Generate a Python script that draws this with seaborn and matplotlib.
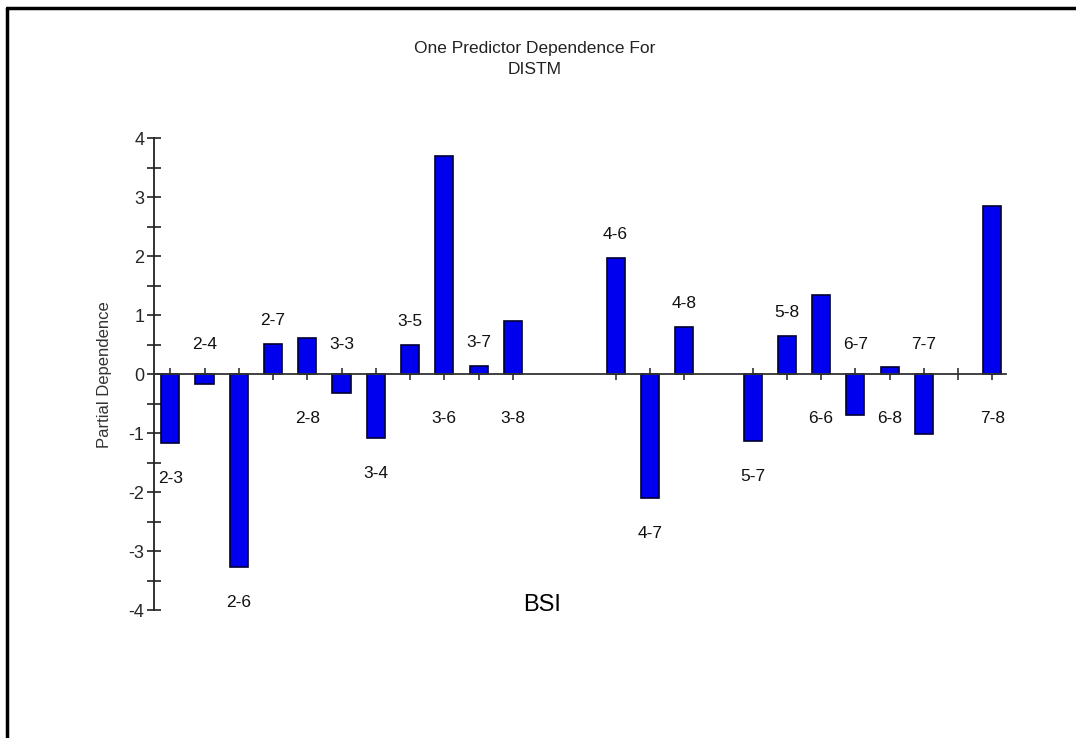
import numpy as np
import pandas as pd
import seaborn as sns
import matplotlib
matplotlib.use("Agg")
import matplotlib.pyplot as plt
from matplotlib.lines import Line2D
from matplotlib.ticker import MultipleLocator

# категории BSI и значения частичной зависимости
slots = [0, 1, 2, 3, 4, 5, 6, 7, 8, 9, 10, 13, 14, 15, 17, 18, 19, 20, 21, 22, 24]
labels = ["2-3", "2-4", "2-6", "2-7", "2-8", "3-3", "3-4", "3-5", "3-6", "3-7", "3-8",
          "4-6", "4-7", "4-8", "5-7", "5-8", "6-6", "6-7", "6-8", "7-7", "7-8"]
values = [-1.17, -0.17, -3.27, 0.51, 0.61, -0.32, -1.08, 0.49, 3.69, 0.14, 0.90,
          1.96, -2.10, 0.80, -1.14, 0.64, 1.34, -0.69, 0.12, -1.02, 2.85]
tick_slots = [0, 1, 2, 3, 4, 5, 6, 7, 8, 9, 10, 13, 14, 15, 17, 18, 19, 20, 21, 22, 23, 24]
n_slots = 25

df = pd.DataFrame({"slot": slots, "label": labels, "value": values})

sns.set_style("white")
plt.rcParams["font.family"] = ["Liberation Sans", "DejaVu Sans"]
plt.rcParams["axes.unicode_minus"] = False

fig = plt.figure(figsize=(10.76, 7.38), dpi=100)
ax = fig.add_axes([0.143, 0.173, 0.792, 0.64])

# полный ряд позиций, пустые позиции = NaN
full = pd.DataFrame({"slot": np.arange(n_slots)})
full = full.merge(df, on="slot", how="left")
sns.barplot(data=full, x="slot", y="value", color="#0000ee", saturation=1,
            width=0.53, edgecolor="#000033", linewidth=1.2, ax=ax, native_scale=True)

ax.set_xlim(-0.48, 24.4)
ax.set_ylim(-4, 4)

# оси как в старом графике: ось X по нулю
for s in ["top", "right"]:
    ax.spines[s].set_visible(False)
ax.spines["bottom"].set_position(("data", 0))
ax.spines["bottom"].set_color("#333333")
ax.spines["left"].set_color("#222222")
ax.spines["bottom"].set_linewidth(1.3)
ax.spines["left"].set_linewidth(1.3)

ax.set_xticks(tick_slots)
ax.set_xticklabels([])
ax.tick_params(axis="x", bottom=True, direction="inout", length=9, width=1.2, color="#333333")
ax.yaxis.set_major_locator(MultipleLocator(1))
ax.yaxis.set_minor_locator(MultipleLocator(0.5))
ax.tick_params(axis="y", which="both", left=True, direction="inout", length=10, width=1.2,
               color="#222222", labelsize=13, pad=2)
ax.set_xlabel("")
ax.set_ylabel("Partial Dependence", fontsize=12, color="#333333", labelpad=12)

# подписи категорий, поочередно снизу / сверху
for i, row in df.iterrows():
    if i % 2 == 0:
        y = min(row["value"], -0.15) - 0.6
    else:
        y = max(row["value"], 0.1) + 0.4
    ax.text(row["slot"], y, row["label"], ha="center", va="center",
            fontsize=12.5, color="#111111")

ax.text(0.455, 0.012, "BSI", transform=ax.transAxes, ha="center", va="center",
        fontsize=17, color="black")

fig.text(0.497, 0.92, "One Predictor Dependence For\nDISTM", ha="center", va="center",
         fontsize=12.5, color="#222222", linespacing=1.45)

# рамка картинки (только верх и левый край видны)
fig.add_artist(Line2D([0.0065, 1.0], [0.989, 0.989], color="black", linewidth=2.5,
                      transform=fig.transFigure))
fig.add_artist(Line2D([0.0065, 0.0065], [0.0, 0.989], color="black", linewidth=2.5,
                      transform=fig.transFigure))

fig.savefig("out.png", dpi=100)
